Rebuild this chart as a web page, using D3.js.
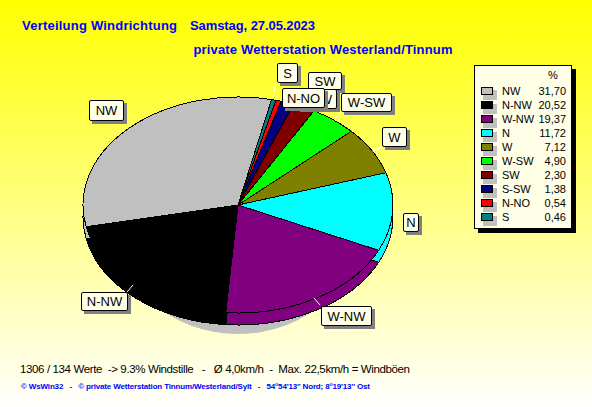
<!DOCTYPE html>
<html><head><meta charset="utf-8">
<script src="https://cdn.jsdelivr.net/npm/d3@7"></script>
<style>html,body{margin:0;padding:0;background:#fff}svg{display:block}text{font-family:"Liberation Sans",Arial,sans-serif}</style>
</head><body><div id="c"></div>
<script>
// Data
const categories = ["NW","N-NW","W-NW","N","W","W-SW","SW","S-SW","N-NO","S"];
const values = [31.70,20.52,19.37,11.72,7.12,4.90,2.30,1.38,0.54,0.46];
const valueLabels = ["31,70","20,52","19,37","11,72","7,12","4,90","2,30","1,38","0,54","0,46"];
const colors = ["#C0C0C0","#000000","#800080","#00FFFF","#808000","#00FF00","#800000","#000080","#FF0000","#008080"];
// Layout
const W=592,H=407, cx=238, cy=205, rx=155, ry=108, depth=12, startDeg=12.5;
const boxes = {
 "SW":[308,72,33,17],"S-SW":[297,89,39,19],"N-NO":[282,88,42,19],"W-SW":[341,93,50,18],
 "S":[277,63,20,19],"W":[382,127,24,19],"N":[403,213,15,18],"W-NW":[321,306,50,19],
 "N-NW":[81,292,46,18],"NW":[89,100,34,20]};
const textShift = {"S-SW":-2};
const leaders = {
 "S":[276,83,273,97],"W-SW":[342,112,335,118],"W":[383,147,372,151],"N":[393,212,403,212],
 "W-NW":[320,305,314,298],"N-NW":[127,292,133,285],"NW":[125,122,129,125]};
const labelOrder = ["NW","N-NW","W-NW","N","W","SW","S-SW","N-NO","W-SW","S"];

const svg=d3.select("#c").append("svg").attr("width",W).attr("height",H);
const defs=svg.append("defs");
const g=defs.append("linearGradient").attr("id","bg").attr("x1",0).attr("y1",0).attr("x2",0).attr("y2",1);
g.append("stop").attr("offset",0).attr("stop-color","#FFFF00");
g.append("stop").attr("offset",1).attr("stop-color","#FFFFFF");
svg.append("rect").attr("width",W).attr("height",H).attr("fill","url(#bg)");

// Titles
const title=(x,y,t,len)=>svg.append("text").attr("x",x).attr("y",y).attr("fill","#0000FF")
  .attr("font-weight","bold").attr("font-size",13).attr("textLength",len).attr("lengthAdjust","spacing").text(t);
title(22,30,"Verteilung Windrichtung",155);
title(190,30,"Samstag, 27.05.2023",125);
title(193.5,54,"private Wetterstation Westerland/Tinnum",259);

// Pie (clockwise from the S wedge: the series is drawn in reverse order)
const order=d3.range(categories.length).reverse();
const pie=d3.pie().sort(null).value(i=>values[i])
  .startAngle(startDeg*Math.PI/180).endAngle((startDeg+360)*Math.PI/180);
const arcs=pie(order);
const arc=d3.arc().innerRadius(0).outerRadius(rx);
const sy=ry/rx;

// grey under-shadow ellipse at the bottom
svg.append("ellipse").attr("cx",cx).attr("cy",cy+21).attr("rx",122).attr("ry",ry)
  .attr("fill",colors[0]);

const drawSlices=(cls,dy,list)=>svg.selectAll("path."+cls).data(list).join("path").attr("class",cls)
  .attr("transform",`translate(${cx},${cy+dy}) scale(1,${sy})`)
  .attr("d",arc).attr("fill",d=>colors[d.data])
  .attr("stroke","#000").attr("stroke-width",1).attr("vector-effect","non-scaling-stroke")
  .attr("shape-rendering","crispEdges");
// walls: back to front
const wallOrder=["NW","N","W-NW","N-NW"].map(n=>arcs.find(a=>categories[a.data]===n));
drawSlices("wall",depth,wallOrder);
drawSlices("top",0,arcs);

// Leaders
svg.selectAll("line.lead").data(Object.keys(leaders)).join("line").attr("class","lead")
  .attr("x1",k=>leaders[k][0]).attr("y1",k=>leaders[k][1]).attr("x2",k=>leaders[k][2]).attr("y2",k=>leaders[k][3])
  .attr("stroke","#fff").attr("stroke-width",1);

// Callouts
labelOrder.forEach(k=>{
  const [x,y,w,h]=boxes[k];
  svg.append("rect").attr("x",x+3).attr("y",y+3).attr("width",w+1).attr("height",h+1).attr("fill","#808080");
  svg.append("rect").attr("x",x+.5).attr("y",y+.5).attr("width",w).attr("height",h).attr("rx",1.5)
    .attr("fill","#FFFFE8").attr("stroke","#000");
  svg.append("text").attr("x",x+w/2+.5+(textShift[k]||0)).attr("y",y+h/2+5).attr("text-anchor","middle")
    .attr("font-size",13).attr("fill","#000").text(k);
});

// Legend
const lx=474,ly=65,lw=97,lh=163,rowY=d3.scalePoint().domain(categories).range([91,217]);
svg.append("rect").attr("x",lx+4).attr("y",ly+4).attr("width",lw+1).attr("height",lh+1).attr("fill","#000");
svg.append("rect").attr("x",lx+.5).attr("y",ly+.5).attr("width",lw).attr("height",lh).attr("fill","#FFFFE8").attr("stroke","#000");
svg.append("text").attr("x",553).attr("y",79).attr("text-anchor","middle").attr("font-size",11).text("%");
categories.forEach((c,i)=>{
  const y=rowY(c);
  svg.append("rect").attr("x",483).attr("y",y-1).attr("width",14).attr("height",10).attr("fill","#C0C0C0");
  svg.append("rect").attr("x",481.5).attr("y",y-3.5).attr("width",11).attr("height",7).attr("fill",colors[i]).attr("stroke","#000").attr("stroke-width",1);
  svg.append("text").attr("x",502).attr("y",y+4).attr("font-size",11).attr("fill","#000").text(c);
  svg.append("text").attr("x",566).attr("y",y+4).attr("text-anchor","end").attr("font-size",11).attr("fill","#000").text(valueLabels[i]);
});

// Footer
svg.append("text").attr("x",20).attr("y",373).attr("font-size",11.5).attr("fill","#000")
  .style("white-space","pre").attr("textLength",390)
  .text("1306 / 134 Werte  -> 9.3% Windstille   -   Ø 4,0km/h  -  Max. 22,5km/h = Windböen");
svg.append("text").attr("x",21).attr("y",389).attr("font-size",8).attr("font-weight","bold").attr("fill","#0000FF")
  .style("white-space","pre").attr("textLength",349)
  .text("© WsWin32   -   © private Wetterstation Tinnum/Westerland/Sylt   -   54°54'13'' Nord; 8°19'13'' Ost");
</script></body></html>
